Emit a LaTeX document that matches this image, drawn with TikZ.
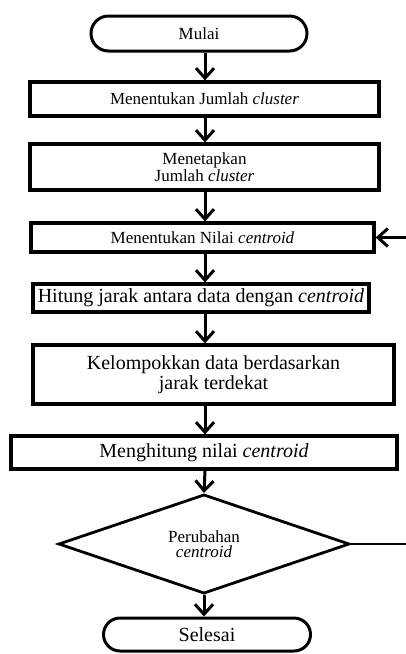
\documentclass[tikz,border=0pt]{standalone}
\usepackage{fontspec}
\setmainfont{Liberation Serif}
\usetikzlibrary{positioning,shapes.geometric,shapes.misc,arrows.meta}
\tikzset{>={Straight Barb[length=10pt,width=18pt]}}
\tikzset{
  proses/.style={draw, rectangle, line width=3.2pt, align=center, inner sep=2pt},
  terminal/.style={draw, rounded rectangle, line width=3pt, inner sep=2pt},
  keputusan/.style={draw, diamond, line width=2.8pt, align=center, inner sep=0pt},
  panah/.style={->, line width=3pt}
}
\newcommand{\teksKecil}{\fontsize{17}{17}\selectfont}
\newcommand{\teksBesar}{\fontsize{20}{20}\selectfont}

\begin{document}
\begin{tikzpicture}
      \useasboundingbox (0,0) rectangle (406pt,-654pt);
      \coordinate (spine) at (205pt,0);
      \coordinate (tepi) at (406pt,0);
      \node[terminal, font=\teksKecil, minimum width=220pt, minimum height=35pt] (n0) at (199pt,-33.5pt) {Mulai};
      \node[proses, font=\teksKecil, below of=n0, node distance=65.5pt, xshift=5.5pt, minimum width=349pt, minimum height=34pt] (n1) {Menentukan Jumlah \textit{cluster}};
      \node[proses, font=\teksKecil, below of=n1, node distance=68pt, minimum width=349pt, minimum height=46pt] (n2) {Menetapkan\\Jumlah \textit{cluster}};
      \node[proses, font=\teksKecil, below of=n2, node distance=70.5pt, xshift=-2pt, minimum width=343pt, minimum height=29pt] (n3) {Menentukan Nilai \textit{centroid}};
      \node[proses, font=\teksBesar, below of=n3, node distance=60.5pt, xshift=-1.5pt, minimum width=336pt, minimum height=28pt] (n4) {Hitung jarak antara data dengan \textit{centroid}};
      \node[proses, font=\teksBesar, below of=n4, node distance=76.5pt, xshift=12.5pt, minimum width=361pt, minimum height=59pt] (n5) {Kelompokkan data berdasarkan\\jarak terdekat};
      \node[proses, font=\teksBesar, below of=n5, node distance=78pt, xshift=-9.5pt, minimum width=386pt, minimum height=33pt] (n6) {Menghitung nilai \textit{centroid}};
      \node[keputusan, font=\fontsize{17}{15.5}\selectfont, below of=n6, node distance=91.5pt, minimum width=291pt, minimum height=90pt] (n7) {Perubahan\\\textit{centroid}};
      \node[terminal, font=\teksBesar, below of=n7, node distance=90.5pt, xshift=3pt, minimum width=211pt, minimum height=33pt] (n8) {Selesai};
      \draw[panah] (n0.south -| spine) -- (n1.north -| spine);
      \draw[panah] (n1.south -| spine) -- (n2.north -| spine);
      \draw[panah] (n2.south -| spine) -- (n3.north -| spine);
      \draw[panah] (n3.south -| spine) -- (n4.north -| spine);
      \draw[panah] (n4.south -| spine) -- (n5.north -| spine);
      \draw[panah] (n5.south -| spine) -- (n6.north -| spine);
      \draw[panah] (n6.south -| spine) -- (n7.north);
      \draw[panah] (n7.south) -- (n8.north -| n7.south);
      % kembali ke centroid
      \draw[line width=2.8pt] (n7.east) -- (n7.east -| tepi);
      \draw[panah] (n3.east -| tepi) -- (n3.east);
    \end{tikzpicture}
\end{document}
